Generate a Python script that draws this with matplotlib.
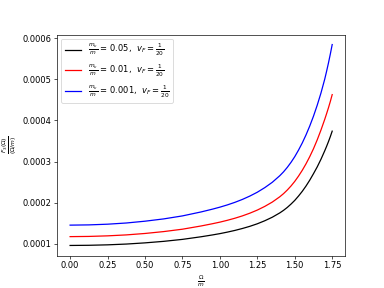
import matplotlib
matplotlib.use("Agg")
import matplotlib.pyplot as plt

x = [0, 0.125, 0.25, 0.375, 0.5, 0.625, 0.75, 0.875, 0.95, 1.0, 1.05, 1.1, 1.15, 1.2, 1.25,
     1.3, 1.35, 1.4, 1.425, 1.45, 1.475, 1.5, 1.525, 1.55, 1.575, 1.6, 1.625, 1.65, 1.675,
     1.7, 1.7125, 1.725, 1.7375, 1.75]

blue = [1.450, 1.456, 1.473, 1.502, 1.546, 1.602, 1.675, 1.772, 1.839, 1.888, 1.943, 2.005,
        2.076, 2.158, 2.252, 2.364, 2.494, 2.654, 2.748, 2.857, 2.980, 3.118, 3.277, 3.451,
        3.647, 3.864, 4.104, 4.372, 4.669, 5.005, 5.197, 5.400, 5.618, 5.850]
red = [1.170, 1.175, 1.189, 1.212, 1.247, 1.293, 1.351, 1.430, 1.484, 1.523, 1.568, 1.618,
       1.675, 1.741, 1.817, 1.907, 2.012, 2.141, 2.217, 2.305, 2.404, 2.516, 2.644, 2.785,
       2.943, 3.118, 3.311, 3.528, 3.767, 4.026, 4.165, 4.309, 4.463, 4.630]
black = [0.955, 0.959, 0.970, 0.989, 1.018, 1.055, 1.103, 1.167, 1.211, 1.243, 1.280, 1.321,
         1.368, 1.421, 1.483, 1.557, 1.643, 1.748, 1.810, 1.881, 1.963, 2.053, 2.158, 2.273,
         2.402, 2.545, 2.703, 2.869, 3.055, 3.260, 3.369, 3.484, 3.607, 3.740]

scale = 1e-4
labels = [r'$\frac{m_\nu}{m}$ = 0.05,  $v_F = \frac{1}{20}$',
          r'$\frac{m_\nu}{m}$ = 0.01,  $v_F = \frac{1}{20}$',
          r'$\frac{m_\nu}{m}$ = 0.001,  $v_F = \frac{1}{20}$']

fig = plt.figure(figsize=(6.4, 4.8), dpi=60)
ax = fig.add_subplot(111)
fig.subplots_adjust(left=57/384, right=345.3/384, top=1-34.5/288, bottom=1-255.5/288)

for series, color, lab in zip([black, red, blue], ['black', 'red', 'blue'], labels):
    ax.plot(x, [v * scale for v in series], color=color, label=lab)

ax.set_xlabel(r'$\frac{\Omega}{m}$')
ax.set_ylabel(r'$\frac{F_3(\Omega)}{(\Omega/m)}$')
ax.legend(loc='upper left')

fig.savefig('out.png', dpi=60)
